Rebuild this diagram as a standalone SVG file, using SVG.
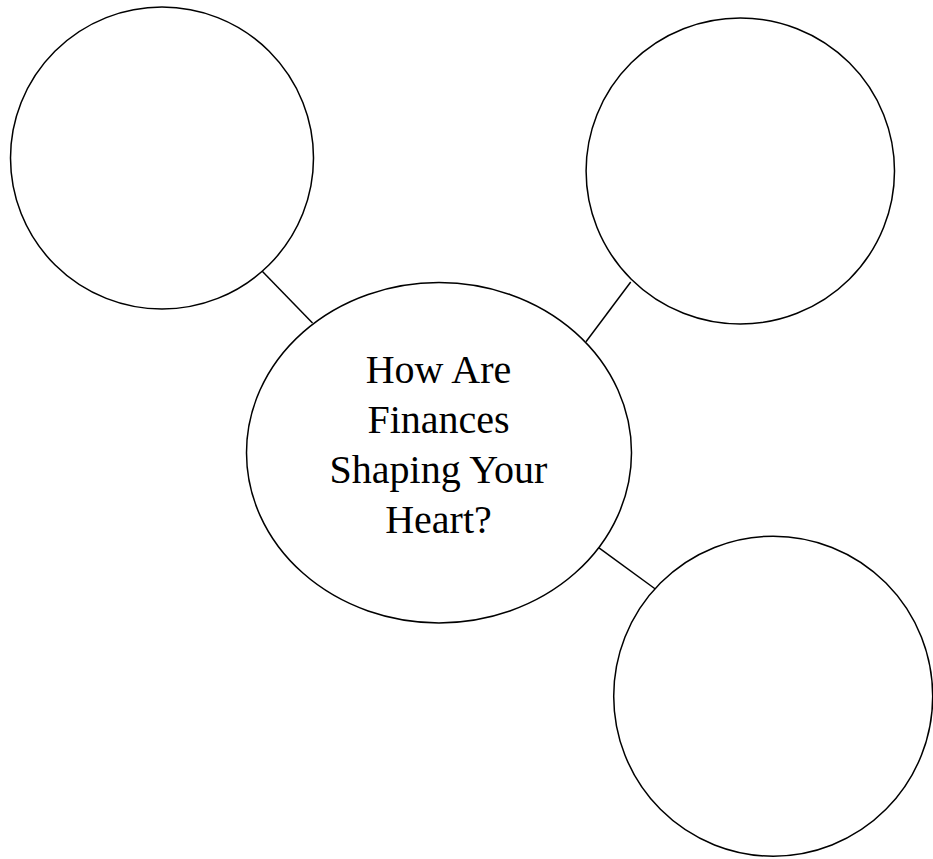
<svg xmlns="http://www.w3.org/2000/svg" width="933" height="859" viewBox="0 0 933 859">
<style>
.n{fill:#fff;stroke:#000;stroke-width:1.5}
.c{stroke:#000;stroke-width:1.5;fill:none}
.t{font-family:"Liberation Serif","DejaVu Serif",serif;font-size:40px;fill:#000;text-anchor:middle}
</style>
<rect width="933" height="859" fill="#fff"/>
<g id="connectors">
<line class="c" x1="262" y1="271" x2="312.5" y2="323"/>
<line class="c" x1="630.7" y1="282" x2="586" y2="341.7"/>
<line class="c" x1="598.3" y1="547.3" x2="655.3" y2="589"/>
</g>
<g id="node-topleft"><ellipse class="n" cx="162" cy="158" rx="151.5" ry="151"/></g>
<g id="node-topright"><ellipse class="n" cx="740.3" cy="171" rx="154.2" ry="153"/></g>
<g id="node-bottomright"><ellipse class="n" cx="773.2" cy="696.2" rx="159.5" ry="160"/></g>
<g id="node-center">
<ellipse class="n" cx="439" cy="452.7" rx="192.5" ry="170.2"/>
<text class="t" x="438.5" y="382.7">How Are</text>
<text class="t" x="438.5" y="432.7">Finances</text>
<text class="t" x="438.5" y="483">Shaping Your</text>
<text class="t" x="438.5" y="533">Heart?</text>
</g>
</svg>
